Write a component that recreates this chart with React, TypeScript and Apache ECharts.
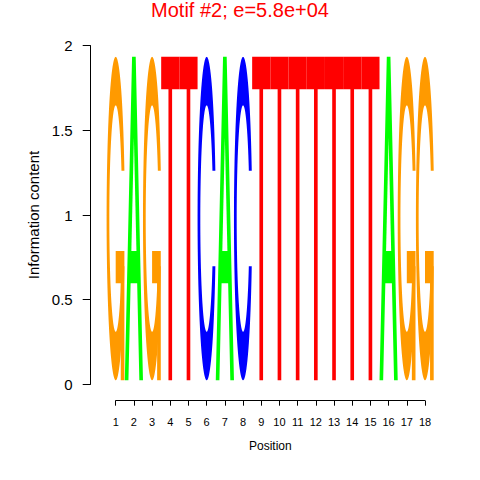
import React, { useEffect, useRef } from "react";
import * as echarts from "echarts";

// ---- data ----
const positions = [1, 2, 3, 4, 5, 6, 7, 8, 9, 10, 11, 12, 13, 14, 15, 16, 17, 18];
// information content carried by each base at each position (bits)
const heightA = [0.008, 1.91, 0.008, 0.008, 0.008, 0.008, 1.91, 0.008, 0.008, 0.008, 0.008, 0.008, 0.008, 0.008, 0.008, 1.91, 0.008, 0.008];
const heightC = [0.008, 0.008, 0.008, 0.008, 0.008, 1.91, 0.008, 1.91, 0.008, 0.008, 0.008, 0.008, 0.008, 0.008, 0.008, 0.008, 0.008, 0.008];
const heightG = [1.91, 0.008, 1.91, 0.008, 0.008, 0.008, 0.008, 0.008, 0.008, 0.008, 0.008, 0.008, 0.008, 0.008, 0.008, 0.008, 1.91, 1.91];
const heightT = [0.008, 0.008, 0.008, 1.91, 1.91, 0.008, 0.008, 0.008, 1.91, 1.91, 1.91, 1.91, 1.91, 1.91, 1.91, 0.008, 0.008, 0.008];
const yTickValues = [0, 0.5, 1, 1.5, 2];
const titleText = "Motif #2; e=5.8e+04";
const xName = "Position";
const yName = "Information content";

const COLORS: Record<string, string> = {
  A: "#00FF00",
  C: "#0000FF",
  G: "#FF9A00",
  T: "#FF0000",
};
const MIN_DRAW = 0.05;
const FONT = "'Liberation Sans', Arial, Helvetica, sans-serif";

// ---- letter glyphs (unit box, y up), seqLogo style polygons ----
function seq(a: number, b: number, n: number) {
  const r: number[] = [];
  for (let i = 0; i < n; i++) r.push(a + ((b - a) * i) / (n - 1));
  return r;
}

function ring(): number[][] {
  const a1 = seq(0.3 + Math.PI / 2, Math.PI, 100);
  const a2 = seq(Math.PI, 1.5 * Math.PI, 100);
  const xl = [...a1, ...a2].map((a) => 0.5 + 0.5 * Math.sin(a));
  const yl = [...a1, ...a2].map((a) => 0.5 + 0.5 * Math.cos(a));
  const x = [...xl, ...xl.slice().reverse()];
  const y = [...yl, ...yl.slice().reverse().map((v) => 1 - v)];
  const maxY1 = 0.5 + 0.5 * Math.cos(a1[0]);
  const xi1: number[] = [];
  const yi1: number[] = [];
  a1.forEach((a) => {
    const yy = 0.5 + 0.35 * Math.cos(a);
    if (yy <= maxY1) {
      xi1.push(0.5 + 0.35 * Math.sin(a));
      yi1.push(yy);
    }
  });
  yi1[0] = maxY1;
  const xi2 = a2.map((a) => 0.5 + 0.35 * Math.sin(a));
  const yi2 = a2.map((a) => 0.5 + 0.35 * Math.cos(a));
  const xi = [...xi1, ...xi2];
  const yi = [...yi1, ...yi2];
  const x1 = [...xi, ...xi.slice().reverse()];
  const y1 = [...yi, ...yi.slice().reverse().map((v) => 1 - v)];
  const X = [...x, ...x1.slice().reverse()];
  const Y = [...y, ...y1.slice().reverse()];
  return X.map((v, i) => [v, Y[i]]);
}

const RING = ring();
const R1 = 0.5 + 0.5 * Math.sin(0.3 + Math.PI / 2);

const GLYPHS: Record<string, { pts: number[][]; fill: string }[]> = {
  A: [
    {
      pts: [[0, 0], [0.4, 1], [0.6, 1], [1, 0], [0.8, 0], [0.68, 0.3], [0.32, 0.3], [0.2, 0]],
      fill: COLORS.A,
    },
    { pts: [[0.36, 0.4], [0.5, 0.75], [0.64, 0.4]], fill: "#FFFFFF" },
  ],
  T: [
    {
      pts: [[0, 1], [1, 1], [1, 0.9], [0.6, 0.9], [0.6, 0], [0.4, 0], [0.4, 0.9], [0, 0.9]],
      fill: COLORS.T,
    },
  ],
  C: [{ pts: RING, fill: COLORS.C }],
  G: [
    { pts: RING, fill: COLORS.G },
    {
      pts: [[R1, 0.4], [0.5, 0.4], [0.5, 0.3], [R1 - 0.2, 0.3], [R1 - 0.2, 0], [R1, 0]],
      fill: COLORS.G,
    },
  ],
};

export default function App() {
  const ref = useRef<HTMLDivElement>(null);
  useEffect(() => {
    if (!ref.current) return;
    const chart = echarts.init(ref.current, undefined, { renderer: "svg" });

    const renderItem = (params: any, api: any) => {
      const i = params.dataIndex;
      const pos = api.value(0);
      const entries: [string, number][] = [
        ["A", heightA[i]],
        ["C", heightC[i]],
        ["G", heightG[i]],
        ["T", heightT[i]],
      ];
      entries.sort((a, b) => a[1] - b[1]);
      let base = 0;
      const children: any[] = [];
      entries.forEach(([letter, h]) => {
        if (h >= MIN_DRAW) {
          GLYPHS[letter].forEach((g) => {
            const points = g.pts.map(([u, v]) => api.coord([pos - 0.5 + u, base + v * h]));
            children.push({ type: "polygon", shape: { points }, style: { fill: g.fill } });
          });
        }
        base += h;
      });
      return { type: "group", children };
    };

    const axisText = { color: "#000", fontFamily: FONT };

    chart.setOption({
      animation: false,
      backgroundColor: "#FFFFFF",
      title: {
        text: titleText,
        left: "center",
        top: 0,
        padding: 0,
        textStyle: { color: "#FF0000", fontSize: 20, fontWeight: "normal", fontFamily: FONT },
      },
      grid: [
        { left: 106.6, right: 45.9, top: 45.7, bottom: 95.7 },
        { left: 115.7, right: 55, top: 45.7, bottom: 95.7 },
      ],
      xAxis: [
        { type: "value", gridIndex: 0, min: 0.5, max: 18.5, show: false },
        {
          type: "value",
          gridIndex: 1,
          min: 1,
          max: 18,
          interval: 1,
          offset: 16.4,
          axisLine: { show: true, onZero: false, lineStyle: { color: "#000", width: 1 } },
          axisTick: { show: true, length: 5, lineStyle: { color: "#000" } },
          axisLabel: { ...axisText, fontSize: 11, margin: 16 },
          splitLine: { show: false },
          name: xName,
          nameLocation: "middle",
          nameGap: 39,
          nameTextStyle: { ...axisText, fontSize: 12 },
        },
      ],
      yAxis: [
        {
          type: "value",
          gridIndex: 0,
          min: 0,
          max: 2,
          interval: 0.5,
          offset: 15.9,
          axisLine: { show: true, onZero: false, lineStyle: { color: "#000", width: 1 } },
          axisTick: { show: true, length: 8, lineStyle: { color: "#000" } },
          axisLabel: {
            ...axisText,
            fontSize: 15,
            margin: 18,
            formatter: (v: number) => (yTickValues.includes(v) ? String(v) : ""),
          },
          splitLine: { show: false },
          name: yName,
          nameLocation: "middle",
          nameGap: 43,
          nameTextStyle: { ...axisText, fontSize: 15 },
        },
        { type: "value", gridIndex: 1, min: 0, max: 2, show: false },
      ],
      series: [
        {
          type: "custom",
          xAxisIndex: 0,
          yAxisIndex: 0,
          clip: false,
          renderItem,
          data: positions.map((p) => [p]),
        },
        {
          type: "line",
          xAxisIndex: 1,
          yAxisIndex: 1,
          data: [],
          silent: true,
        },
      ],
    });
    return () => chart.dispose();
  }, []);
  return (
    <div
      ref={ref}
      style={{ position: "fixed", left: 0, top: 0, width: 480, height: 480 }}
    />
  );
}
